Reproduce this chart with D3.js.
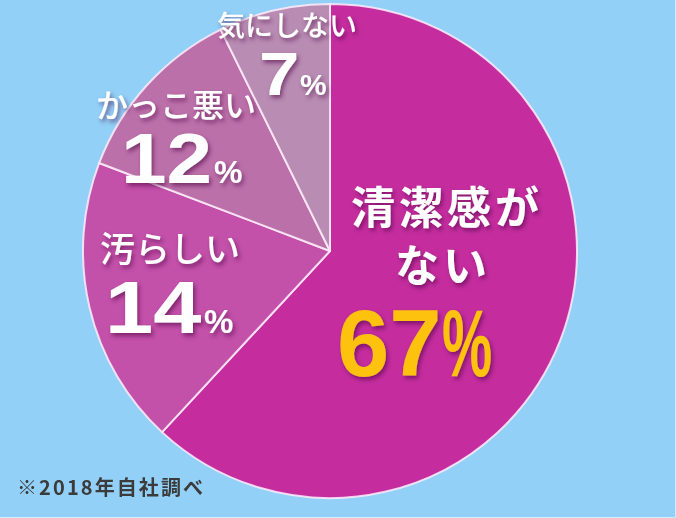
<!DOCTYPE html>
<html><head><meta charset="utf-8">
<script src="https://cdn.jsdelivr.net/npm/d3@7"></script>
<style>html,body{margin:0;padding:0;background:#92d0f8;}svg{display:block;}</style>
</head><body>
<svg id="chart" width="676" height="518"></svg>
<script>
// Data
const categories = ["清潔感がない", "汚らしい", "かっこ悪い", "気にしない"];
const shares = [61.9, 18.9, 11.9, 7.3];          // drawn slice sizes (angles in picture)
const labelValues = [67, 14, 12, 7];             // printed percentages
const sliceColors = ["#c52d9f", "#c350a9", "#bc70aa", "#b98cb3"];
const footnote = "※2018年自社調べ";

const W = 676, H = 518;
const cx = 330, cy = 251, R = 247;
const svg = d3.select("#chart");

svg.append("rect").attr("width", W).attr("height", H).attr("fill", "#92d0f8");

const defs = svg.append("defs");
const f = defs.append("filter").attr("id", "shadow").attr("x", "-20%").attr("y", "-20%").attr("width", "150%").attr("height", "160%");
f.append("feGaussianBlur").attr("in", "SourceAlpha").attr("stdDeviation", 2.2).attr("result", "b");
f.append("feOffset").attr("in", "b").attr("dx", 2).attr("dy", 3).attr("result", "o");
f.append("feFlood").attr("flood-color", "#4a0a40").attr("flood-opacity", 0.55).attr("result", "c");
f.append("feComposite").attr("in", "c").attr("in2", "o").attr("operator", "in").attr("result", "s");
const m = f.append("feMerge");
m.append("feMergeNode").attr("in", "s");
m.append("feMergeNode").attr("in", "SourceGraphic");

const data = categories.map((c, i) => ({ cat: c, share: shares[i], label: labelValues[i], color: sliceColors[i] }));
const pie = d3.pie().sort(null).value(d => d.share);
const arc = d3.arc().innerRadius(0).outerRadius(R);

const g = svg.append("g").attr("transform", `translate(${cx},${cy})`);
g.selectAll("path").data(pie(data)).join("path")
  .attr("d", arc)
  .attr("fill", d => d.data.color)
  .attr("stroke", "rgba(255,236,250,0.85)")
  .attr("stroke-width", 2)
  .attr("stroke-linejoin", "round");

const jp = "'Noto Sans CJK JP', 'Noto Sans', sans-serif";
const lat = "'Liberation Sans', Arial, sans-serif";
const T = svg.append("g").attr("filter", "url(#shadow)");

function jpText(txt, x, y, size, weight, anchor, ls) {
  T.append("text").attr("x", x).attr("y", y).attr("font-family", jp).attr("font-size", size)
    .attr("font-weight", weight).attr("fill", "#ffffff").attr("text-anchor", anchor || "start")
    .attr("dominant-baseline", "central").attr("letter-spacing", ls || 0).text(txt);
}
function numText(num, x, y, size, pctX, pctSize) {
  T.append("text").attr("transform", `translate(${x},${y}) scale(1.17,1)`).attr("font-family", lat)
    .attr("font-size", size).attr("font-weight", "bold").attr("fill", "#ffffff").text(num);
  T.append("text").attr("x", pctX).attr("y", y).attr("font-family", lat)
    .attr("font-size", pctSize).attr("font-weight", "bold").attr("fill", "#ffffff").text("%");
}

// labels
jpText("気にしない", 217, 24, 28, 500);
numText(String(data[3].label), 259, 95, 62, 300, 30);

jpText("かっこ悪い", 96, 103, 32, 500);
numText(String(data[2].label), 121, 183, 70, 214, 32);

jpText("汚らしい", 100, 246, 35, 500);
numText(String(data[1].label), 105, 333, 74, 204, 33);

jpText("清潔感が", 447, 205, 44, "bold", "middle", 4);
jpText("ない", 443, 263, 44, "bold", "middle", 4);

// 67% in yellow with narrow percent sign
T.append("text").attr("x", 337).attr("y", 376).attr("font-family", lat).attr("font-size", 94)
  .attr("font-weight", "bold").attr("fill", "#fdc20c").text(String(data[0].label));
T.append("text").attr("transform", "translate(442,376) scale(0.6,1)").attr("font-family", lat)
  .attr("font-size", 94).attr("font-weight", "bold").attr("fill", "#fdc20c").text("%");

svg.append("text").attr("x", 17).attr("y", 495).attr("font-family", jp).attr("font-size", 20)
  .attr("font-weight", "bold").attr("fill", "#3b3b3b").attr("textLength", 186)
  .attr("lengthAdjust", "spacing").text(footnote);

svg.append("path").attr("d", `M${W-0.5},0V${H-0.5}H0`).attr("fill", "none")
  .attr("stroke", "rgba(255,255,255,0.6)").attr("stroke-width", 1);
</script>
</body></html>
